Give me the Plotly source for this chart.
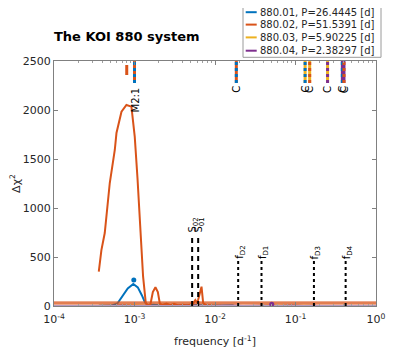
import math
import plotly.graph_objects as go

# candidatos do sistema KOI 880
nomes = ["880.01", "880.02", "880.03", "880.04"]
periodos = ["26.4445", "51.5391", "5.90225", "2.38297"]
cores = ["#0072BD", "#D95319", "#EDB120", "#7E2F8E"]

# curva principal 880.02 (laranja)
freq_02 = [0.000360, 0.000388, 0.000427, 0.000493, 0.000569, 0.000597, 0.000689,
           0.000794, 0.000916, 0.001007, 0.001089, 0.001164, 0.001279, 0.001380,
           0.00146, 0.00158, 0.00169, 0.00182, 0.00195, 0.00206, 0.0022, 0.0025,
           0.0028, 0.0031, 0.0035, 0.0040, 0.0045, 0.0053, 0.00569, 0.00603,
           0.00638, 0.00680, 0.00713, 0.00771, 0.0090, 0.0120]
dchi_02 = [350, 571, 745, 1255, 1592, 1765, 1983, 2051, 2034, 1728, 1306, 911, 299, 31,
           5, 20, 143, 191, 143, 28, 10, 25, 8, 22, 5, 12, 5, 20, 61, 30, 112, 197, 30,
           10, 5, 3]

# curva 880.01 (azul)
freq_01 = [0.000360, 0.00045, 0.000521, 0.000619, 0.000714, 0.000824, 0.000966,
           0.001099, 0.001233, 0.001343, 0.001463, 0.0017, 0.0021, 0.0026, 0.0032,
           0.004, 0.005, 0.0062, 0.008, 0.010, 0.013, 0.017]
dchi_01 = [2, 4, 3, 30, 100, 180, 224, 190, 110, 40, 5, 12, 4, 9, 3, 6, 2, 8, 3, 5, 2, 4]

# curvas 880.03 e 880.04 (ruido perto de zero)
freq_ruido = [0.00036, 0.0005, 0.0007, 0.001, 0.0014, 0.002, 0.0028, 0.004, 0.0056,
              0.008, 0.011, 0.016, 0.022, 0.032, 0.045, 0.063, 0.09, 0.125, 0.18]
dchi_03 = [4, 7, 3, 9, 5, 11, 4, 8, 3, 10, 6, 4, 8, 3, 7, 5, 9, 4, 6]
dchi_04 = [2, 5, 8, 3, 6, 2, 7, 4, 9, 3, 5, 8, 2, 6, 4, 3, 7, 2, 4]

# niveis horizontais
niveis = [40, 22, 3]
cores_niveis = ["#D95319", "#D95319", "#B59AC0"]

# pontos isolados
ponto_01 = (0.00098, 265)
ponto_04 = (0.0507, 18)

# marca vertical curta (880.02)
marca_freq = 0.000801
marca_dchi = [2357, 2459]

# combinacoes de frequencias
comb_freq = [0.001, 0.0184, 0.1316, 0.150, 0.2502, 0.3818, 0.4002]
comb_cor_a = ["#D95319", "#D95319", "#EDB120", "#EDB120", "#EDB120", "#7E2F8E", "#7E2F8E"]
comb_cor_b = ["#0072BD", "#0072BD", "#0072BD", "#D95319", "#7E2F8E", "#0072BD", "#D95319"]
comb_texto = ["M2:1", "C", "C", "C", "C", "C", "C"]
comb_faixa = [2276, 2500]

# linhas S
s_freq = [0.0052, 0.00618]
s_texto = ["S<sub>02</sub>", "S<sub>01</sub>"]
s_topo = 707

# frequencias dos periodos f_D
fd_freq = [1 / 26.4445, 1 / 51.5391, 1 / 5.90225, 1 / 2.38297]
fd_texto = ["f<sub>D1</sub>", "f<sub>D2</sub>", "f<sub>D3</sub>", "f<sub>D4</sub>"]
fd_topo = 470

fonte = "DejaVu Sans"

fig = go.Figure()

fig.add_trace(go.Scatter(x=freq_ruido, y=dchi_03, mode="lines",
                         line=dict(color=cores[2], width=1.5), showlegend=False))
fig.add_trace(go.Scatter(x=freq_ruido, y=dchi_04, mode="lines",
                         line=dict(color=cores[3], width=1.5), showlegend=False))
fig.add_trace(go.Scatter(x=freq_01, y=dchi_01, mode="lines",
                         line=dict(color=cores[0], width=2), showlegend=False))
fig.add_trace(go.Scatter(x=freq_02, y=dchi_02, mode="lines",
                         line=dict(color=cores[1], width=2), showlegend=False))

for nivel, cor in zip(niveis, cores_niveis):
    fig.add_trace(go.Scatter(x=[1e-4, 1], y=[nivel, nivel], mode="lines",
                             line=dict(color=cor, width=1.2), showlegend=False))

fig.add_trace(go.Scatter(x=[ponto_01[0]], y=[ponto_01[1]], mode="markers",
                         marker=dict(color=cores[0], size=5), showlegend=False))
fig.add_trace(go.Scatter(x=[ponto_04[0]], y=[ponto_04[1]], mode="markers",
                         marker=dict(color=cores[3], size=5), showlegend=False))
fig.add_trace(go.Scatter(x=[marca_freq, marca_freq], y=marca_dchi, mode="lines",
                         line=dict(color=cores[1], width=3), showlegend=False))

rotulo = dict(size=10, color="black", family=fonte)

# linhas de combinacao (duas cores)
for f, ca, cb in zip(comb_freq, comb_cor_a, comb_cor_b):
    fig.add_trace(go.Scatter(x=[f, f], y=comb_faixa, mode="lines",
                             line=dict(color=ca, width=3), showlegend=False))
    fig.add_trace(go.Scatter(x=[f, f], y=comb_faixa, mode="lines",
                             line=dict(color=cb, width=3, dash="dot"), showlegend=False))
for f, t in zip(comb_freq, comb_texto):
    # anotacoes em eixo log usam log10 da posicao
    yc = 2211 if t == "C" else 2102
    fig.add_annotation(x=math.log10(f), y=yc, xref="x", yref="y", text=t, textangle=-90,
                       showarrow=False, font=rotulo)

# linhas S tracejadas
for f, t in zip(s_freq, s_texto):
    fig.add_trace(go.Scatter(x=[f, f], y=[0, s_topo], mode="lines",
                             line=dict(color="black", width=2, dash="5px,4px"), showlegend=False))
    fig.add_annotation(x=math.log10(f), y=s_topo + 115, xref="x", yref="y", text=t,
                       textangle=-90, showarrow=False, xshift=1, font=rotulo)

# linhas pontilhadas f_D
for f, t in zip(fd_freq, fd_texto):
    fig.add_trace(go.Scatter(x=[f, f], y=[0, fd_topo], mode="lines",
                             line=dict(color="black", width=2, dash="dot"), showlegend=False))
    fig.add_annotation(x=math.log10(f), y=fd_topo + 75, xref="x", yref="y", text=t,
                       textangle=-90, showarrow=False, xshift=2, font=rotulo)


# legenda desenhada a mao (linhas mais juntas que a legenda do plotly)
def px_x(p):
    return (p - 54) / 322


def px_y(p):
    return (306 - p) / 245


fig.add_shape(type="rect", xref="paper", yref="paper", x0=px_x(243), x1=px_x(381),
              y0=px_y(57.3), y1=px_y(-12), line=dict(color="#9a9a9a", width=1),
              fillcolor="white", layer="above")
linhas_y = [12.2, 24.6, 37.4, 50.7]
for nome, per, cor, ly in zip(nomes, periodos, cores, linhas_y):
    fig.add_shape(type="line", xref="paper", yref="paper", x0=px_x(245.7), x1=px_x(256.7),
                  y0=px_y(ly), y1=px_y(ly), line=dict(color=cor, width=2))
    fig.add_annotation(x=px_x(258.3), y=px_y(ly), xref="paper", yref="paper",
                       text=f"{nome}, P={per} [d]", showarrow=False, xanchor="left",
                       yanchor="middle", font=dict(size=10, color="#262626", family=fonte))

eixo = dict(showline=True, linecolor="#808080", linewidth=1, mirror="allticks",
            ticks="inside", tickcolor="#808080", ticklen=4, showgrid=False, zeroline=False,
            automargin=False, tickfont=dict(size=11, color="#262626", family=fonte))

# a pagina tem 8px de margem no corpo: figura menor para o grafico cair no lugar certo
fig.update_layout(
    width=408, height=345,
    margin=dict(l=46, r=40, t=53, b=47),
    paper_bgcolor="white", plot_bgcolor="white",
    showlegend=False,
    font=dict(family=fonte, color="#262626"),
    title=dict(text="<b>The KOI 880 system</b>", x=0, xref="paper", xanchor="left",
               y=1 - 28 / 345, yref="container", yanchor="middle",
               font=dict(size=13, color="black", family=fonte)),
    xaxis=dict(type="log", range=[-4, 0],
               tickvals=[1e-4, 1e-3, 1e-2, 1e-1, 1],
               ticktext=["10<sup>-4</sup>", "10<sup>-3</sup>", "10<sup>-2</sup>",
                         "10<sup>-1</sup>", "10<sup>0</sup>"],
               ticklabelstandoff=3,
               minor=dict(ticks="inside", ticklen=2, tickcolor="#a0a0a0", dtick="D1"),
               title=dict(text="frequency [d<sup>-1</sup>]", standoff=12,
                          font=dict(size=11, color="#262626", family=fonte)),
               **eixo),
    yaxis=dict(range=[0, 2500], tickvals=[0, 500, 1000, 1500, 2000, 2500],
               title=dict(text="Δχ<sup>2</sup>", standoff=16,
                          font=dict(size=11, color="#262626", family=fonte)),
               **eixo),
)

fig.write_html("out.html")
